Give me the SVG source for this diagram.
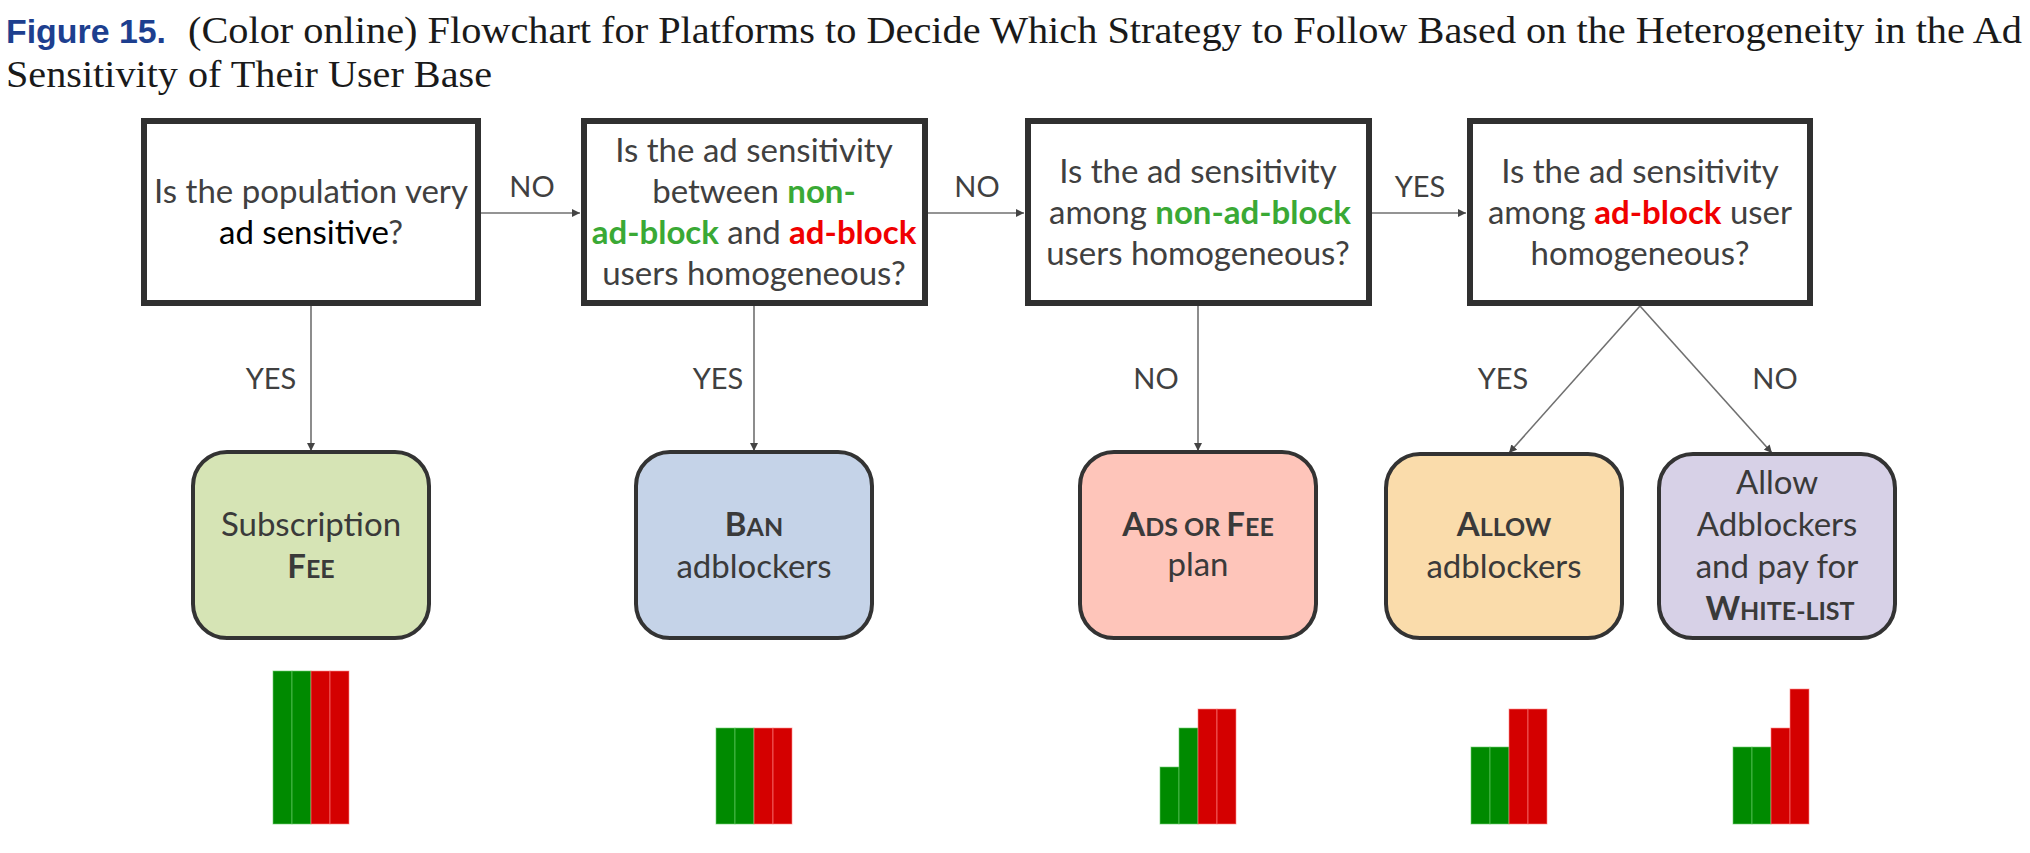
<svg xmlns="http://www.w3.org/2000/svg" width="2030" height="853" viewBox="0 0 2030 853">
<defs>
<style>
.cap{font-family:"Liberation Serif",serif;font-size:37px;fill:#1a1a1a}
.fig{font-family:"Liberation Sans",Arial,sans-serif;font-weight:bold;font-size:34px;fill:#1d3f8f}
.dbox{fill:#fff;stroke:#303030;stroke-width:6}
.q{font-family:Lato,"Open Sans",sans-serif;font-size:33px;fill:#404040;text-anchor:middle}
.r{font-family:Lato,"Open Sans",sans-serif;font-size:33px;fill:#3a3a3a;text-anchor:middle}
.lbl{font-family:Lato,"Open Sans",sans-serif;font-size:29px;fill:#404040;text-anchor:middle}
.b{font-weight:bold}
.g{fill:#3aa935;font-weight:bold}
.rd{fill:#f00000;font-weight:bold}
.res{stroke:#333;stroke-width:4}
.con{stroke:#707070;stroke-width:1.6;fill:none;marker-end:url(#ah)}
.gb{fill:#008a00;stroke:#6fd06f;stroke-width:1;stroke-opacity:0.6}
.rb{fill:#d40000;stroke:#ff8a8a;stroke-width:1;stroke-opacity:0.6}
</style>
<marker id="ah" viewBox="0 0 10 10" refX="10" refY="5" markerWidth="8" markerHeight="8" markerUnits="userSpaceOnUse" orient="auto">
<path d="M0,0 L10,5 L0,10 z" fill="#444"/>
</marker>
</defs>
<rect width="2030" height="853" fill="#fff"/>

<g id="title">
<text class="fig" x="6" y="43" textLength="160" lengthAdjust="spacingAndGlyphs">Figure 15.</text>
<text class="cap" x="188" y="43" textLength="1834" lengthAdjust="spacingAndGlyphs">(Color online) Flowchart for Platforms to Decide Which Strategy to Follow Based on the Heterogeneity in the Ad</text>
<text class="cap" x="6" y="87" textLength="486" lengthAdjust="spacingAndGlyphs">Sensitivity of Their User Base</text>
</g>

<g id="connectors">
<line class="con" x1="481" y1="213" x2="580" y2="213"/>
<line class="con" x1="928" y1="213" x2="1024" y2="213"/>
<line class="con" x1="1372" y1="213" x2="1466" y2="213"/>
<line class="con" x1="311" y1="306" x2="311" y2="451"/>
<line class="con" x1="754" y1="306" x2="754" y2="451"/>
<line class="con" x1="1198" y1="306" x2="1198" y2="451"/>
<line class="con" x1="1640" y1="306" x2="1509" y2="453"/>
<line class="con" x1="1640" y1="306" x2="1772" y2="453"/>
<text class="lbl" x="532" y="197">NO</text>
<text class="lbl" x="977" y="197">NO</text>
<text class="lbl" x="1420" y="197">YES</text>
<text class="lbl" x="271" y="389">YES</text>
<text class="lbl" x="718" y="389">YES</text>
<text class="lbl" x="1156" y="389">NO</text>
<text class="lbl" x="1503" y="389">YES</text>
<text class="lbl" x="1775" y="389">NO</text>
</g>

<g id="q1">
<rect class="dbox" x="144" y="121" width="334" height="182"/>
<text class="q" x="311" y="203">Is the population very</text>
<text class="q" x="311" y="244"><tspan fill="#000">ad sensitive</tspan>?</text>
</g>

<g id="q2">
<rect class="dbox" x="584" y="121" width="341" height="182"/>
<text class="q" x="754" y="162">Is the ad sensitivity</text>
<text class="q" x="754" y="203">between <tspan class="g">non-</tspan></text>
<text class="q" x="754" y="244"><tspan class="g">ad-block</tspan> and <tspan class="rd">ad-block</tspan></text>
<text class="q" x="754" y="285">users homogeneous?</text>
</g>

<g id="q3">
<rect class="dbox" x="1028" y="121" width="341" height="182"/>
<text class="q" x="1198" y="183">Is the ad sensitivity</text>
<text class="q" x="1200" y="224">among <tspan class="g">non-ad-block</tspan></text>
<text class="q" x="1198" y="265">users homogeneous?</text>
</g>

<g id="q4">
<rect class="dbox" x="1470" y="121" width="340" height="182"/>
<text class="q" x="1640" y="183">Is the ad sensitivity</text>
<text class="q" x="1640" y="224">among <tspan class="rd">ad-block</tspan> user</text>
<text class="q" x="1640" y="265">homogeneous?</text>
</g>

<g id="subscription">
<rect class="res" x="193" y="452" width="236" height="186" rx="34" fill="#d6e4b5"/>
<text class="r" x="311" y="536">Subscription</text>
<text class="r b" x="311" y="578" fill="#333">F<tspan font-size="25">EE</tspan></text>
</g>

<g id="ban">
<rect class="res" x="636" y="452" width="236" height="186" rx="34" fill="#c5d3e8"/>
<text class="r b" x="754" y="536" fill="#333">B<tspan font-size="25">AN</tspan></text>
<text class="r" x="754" y="578">adblockers</text>
</g>

<g id="adsfee">
<rect class="res" x="1080" y="452" width="236" height="186" rx="34" fill="#fec5ba"/>
<text class="r b" x="1198" y="536" fill="#333">A<tspan font-size="25">DS OR </tspan>F<tspan font-size="25">EE</tspan></text>
<text class="r" x="1198" y="576">plan</text>
</g>

<g id="allow">
<rect class="res" x="1386" y="454" width="236" height="184" rx="34" fill="#fadcab"/>
<text class="r b" x="1504" y="536" fill="#333">A<tspan font-size="25">LLOW</tspan></text>
<text class="r" x="1504" y="578">adblockers</text>
</g>

<g id="whitelist">
<rect class="res" x="1659" y="454" width="236" height="184" rx="34" fill="#d7d1e7"/>
<text class="r" x="1777" y="494">Allow</text>
<text class="r" x="1777" y="536">Adblockers</text>
<text class="r" x="1777" y="578">and pay for</text>
<text class="r b" x="1780" y="620" fill="#000">W<tspan font-size="25">HITE-LIST</tspan></text>
</g>

<g id="bars1">
<rect class="gb" x="273" y="671" width="19" height="153"/>
<rect class="gb" x="292" y="671" width="19" height="153"/>
<rect class="rb" x="311" y="671" width="19" height="153"/>
<rect class="rb" x="330" y="671" width="19" height="153"/>
</g>
<g id="bars2">
<rect class="gb" x="716" y="728" width="19" height="96"/>
<rect class="gb" x="735" y="728" width="19" height="96"/>
<rect class="rb" x="754" y="728" width="19" height="96"/>
<rect class="rb" x="773" y="728" width="19" height="96"/>
</g>
<g id="bars3">
<rect class="gb" x="1160" y="767" width="19" height="57"/>
<rect class="gb" x="1179" y="728" width="19" height="96"/>
<rect class="rb" x="1198" y="709" width="19" height="115"/>
<rect class="rb" x="1217" y="709" width="19" height="115"/>
</g>
<g id="bars4">
<rect class="gb" x="1471" y="747" width="19" height="77"/>
<rect class="gb" x="1490" y="747" width="19" height="77"/>
<rect class="rb" x="1509" y="709" width="19" height="115"/>
<rect class="rb" x="1528" y="709" width="19" height="115"/>
</g>
<g id="bars5">
<rect class="gb" x="1733" y="747" width="19" height="77"/>
<rect class="gb" x="1752" y="747" width="19" height="77"/>
<rect class="rb" x="1771" y="728" width="19" height="96"/>
<rect class="rb" x="1790" y="689" width="19" height="135"/>
</g>
</svg>
